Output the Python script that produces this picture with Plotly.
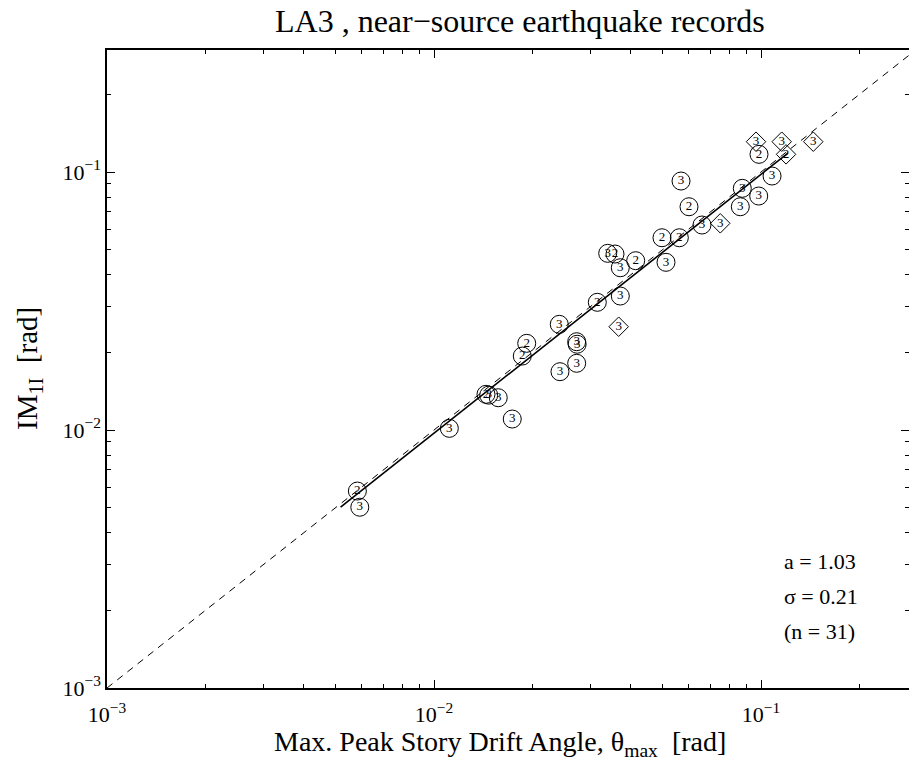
import numpy as np
import plotly.graph_objects as go

# ---------------- data ----------------
# circles (near-source records), label = number shown inside the marker
circ_x = [0.00583, 0.00593, 0.01114, 0.01442, 0.01470, 0.01572, 0.01735, 0.01862,
          0.01921, 0.02428, 0.02416, 0.02731, 0.02740, 0.02731, 0.03158, 0.03713,
          0.03398, 0.03577, 0.03713, 0.04138, 0.04979, 0.05627, 0.05122, 0.05694,
          0.06023, 0.06600, 0.08766, 0.08644, 0.09840, 0.10810, 0.09861]
circ_y = [0.00580, 0.00502, 0.01015, 0.01375, 0.01365, 0.01334, 0.01103, 0.01935,
          0.02168, 0.01683, 0.02568, 0.02199, 0.02150, 0.01814, 0.03126, 0.03306,
          0.04840, 0.04810, 0.04256, 0.04532, 0.05562, 0.05562, 0.04467, 0.09228,
          0.07336, 0.06232, 0.08646, 0.07336, 0.08072, 0.09650, 0.11710]
circ_lbl = ["2", "3", "3", "2", "3", "3", "3", "2",
            "2", "3", "3", "3", "3", "3", "2", "3",
            "3", "2", "3", "2", "2", "2", "3", "3",
            "2", "3", "3", "3", "3", "3", "2"]

# diamonds
diam_x = [0.03671, 0.07507, 0.09654, 0.11570, 0.11930, 0.14450]
diam_y = [0.02514, 0.06327, 0.13110, 0.13110, 0.11710, 0.13110]
diam_lbl = ["3", "3", "3", "3", "2", "3"]

# regression line end points and 1:1 reference line
fit_x = [0.00518, 0.1209]
fit_y = [0.00502, 0.1185]
ref_x = [0.001, 0.3]
ref_y = [0.001, 0.3]

stats_text = ["a = 1.03", "σ = 0.21", "(n = 31)"]

major_vals = [1e-3, 1e-2, 1e-1]
major_text = ["10<sup>−3</sup>", "10<sup>−2</sup>", "10<sup>−1</sup>"]
minor_vals = [k * 10.0 ** d for d in (-3, -2, -1) for k in range(2, 10)]

FONT = "Liberation Serif, Times New Roman, serif"

fig = go.Figure()

fig.add_trace(go.Scatter(x=ref_x, y=ref_y, mode="lines",
                         line=dict(color="black", width=1, dash="7px,6px"),
                         hoverinfo="skip", showlegend=False))
fig.add_trace(go.Scatter(x=fit_x, y=fit_y, mode="lines",
                         line=dict(color="black", width=1.6),
                         hoverinfo="skip", showlegend=False))
fig.add_trace(go.Scatter(x=circ_x, y=circ_y, mode="markers+text", text=circ_lbl,
                         textposition="middle center",
                         textfont=dict(family=FONT, size=13, color="black"),
                         marker=dict(symbol="circle-open", size=18,
                                     line=dict(color="black", width=1), color="black"),
                         showlegend=False))
fig.add_trace(go.Scatter(x=diam_x, y=diam_y, mode="markers+text", text=diam_lbl,
                         textposition="middle center",
                         textfont=dict(family=FONT, size=13, color="black"),
                         marker=dict(symbol="diamond-open", size=15,
                                     line=dict(color="black", width=1), color="black"),
                         showlegend=False))
# invisible trace to activate right-hand y axis ticks
fig.add_trace(go.Scatter(x=[None], y=[None], yaxis="y2", showlegend=False))

W, H = 909, 770
L, R, T, B = 107, 0, 50, 82
PW, PH = W - L - R, H - T - B


def px(xp):
    return (xp - L) / PW


def py(yp):
    return 1 - (yp - T) / PH


fig.update_layout(
    width=W, height=H,
    margin=dict(l=L, r=R, t=T, b=B, pad=0),
    paper_bgcolor="white", plot_bgcolor="white",
    font=dict(family=FONT, size=22, color="black"),
    xaxis=dict(type="log", range=[-3, -0.5474], showgrid=False, zeroline=False,
               showline=True, linecolor="black", linewidth=1.5, mirror="ticks",
               ticks="inside", ticklen=8, tickwidth=1, tickcolor="black",
               tickmode="array", tickvals=major_vals, ticktext=major_text,
               tickfont=dict(family=FONT, size=22), ticklabelstandoff=6,
               minor=dict(tickmode="array", tickvals=minor_vals, ticks="inside",
                          ticklen=4, tickwidth=1, tickcolor="black", showgrid=False)),
    yaxis=dict(type="log", range=[-3, -0.527], showgrid=False, zeroline=False,
               showline=True, linecolor="black", linewidth=1.5, mirror=False,
               ticks="inside", ticklen=8, tickwidth=1, tickcolor="black",
               tickmode="array", tickvals=major_vals, ticktext=major_text,
               tickfont=dict(family=FONT, size=22),
               minor=dict(tickmode="array", tickvals=minor_vals, ticks="inside",
                          ticklen=4, tickwidth=1, tickcolor="black", showgrid=False)),
    yaxis2=dict(type="log", range=[-3, -0.527], overlaying="y", side="right",
                showgrid=False, zeroline=False, showline=False,
                ticks="inside", ticklen=8, tickwidth=1, tickcolor="black",
                tickmode="array", tickvals=major_vals, showticklabels=False,
                minor=dict(tickmode="array", tickvals=minor_vals, ticks="inside",
                           ticklen=4, tickwidth=1, tickcolor="black", showgrid=False)),
)

# title
fig.add_annotation(text="LA3 , near−source earthquake records", xref="paper", yref="paper",
                   x=px(520), y=py(21), xanchor="center", yanchor="middle",
                   showarrow=False, font=dict(family=FONT, size=32, color="black"))
# axis titles
fig.add_annotation(text="Max. Peak Story Drift Angle, θ<sub>max</sub>  [rad]",
                   xref="paper", yref="paper", x=px(500), y=py(743),
                   xanchor="center", yanchor="middle", showarrow=False,
                   font=dict(family=FONT, size=28, color="black"))
fig.add_annotation(text="IM<sub>1I</sub>  [rad]", xref="paper", yref="paper",
                   x=px(29), y=py(369), xanchor="center", yanchor="middle",
                   textangle=-90, showarrow=False,
                   font=dict(family=FONT, size=29, color="black"))

for i, s in enumerate(stats_text):
    fig.add_annotation(text=s, xref="paper", yref="paper",
                       x=px(782), y=py(561 + 35 * i),
                       xanchor="left", yanchor="middle", showarrow=False,
                       align="left", font=dict(family=FONT, size=22, color="black"))

fig.write_html("out.html")
